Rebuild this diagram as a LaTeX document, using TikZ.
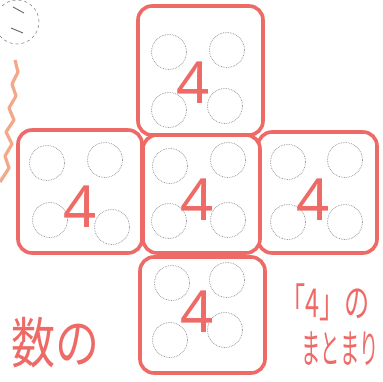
\documentclass[tikz,border=0pt]{standalone}
\usepackage{fontspec}
\setmainfont{Noto Sans}
\newfontfamily\cjk{Noto Sans CJK JP}
\definecolor{pen}{HTML}{EE6A66}
\definecolor{peach}{HTML}{F4A88A}
\definecolor{dotgray}{HTML}{8A8A8A}
\begin{document}
\begin{tikzpicture}[x=1pt,y=-1pt,
  facebox/.style={draw=pen,line width=3.6pt,rounded corners=14pt,fill=white,inner sep=0pt},
  pip/.style={circle,draw=dotgray,densely dotted,line width=0.7pt,minimum size=35pt,inner sep=0pt},
  four/.style={text=pen,font=\fontsize{58}{58}\selectfont,inner sep=0pt},
  jp/.style={text=pen,font=\cjk\fontsize{21}{21}\selectfont,inner sep=0pt}]
\useasboundingbox (0,0) rectangle (382,382);
\fill[white] (0,0) rectangle (382,382);
% circled number and wavy line
\node[circle,draw=dotgray,dashed,line width=0.6pt,minimum size=44pt,inner sep=0pt] (num) at (17,22) {};
\draw[gray!80!black,line width=0.9pt] (num.center) ++(-4,-15) -- ++(11,6);
\draw[gray!80!black,line width=0.9pt] (num.center) ++(-6,6) -- ++(12,5);
\coordinate (w1) at (15,60);
\coordinate (w2) at (0,182);
\draw[peach,line width=3.2pt,line join=round] (w1) -- (18,72) -- (12,84) -- (16,96) -- (9,108) -- (14,120) -- (6,132) -- (12,144) -- (5,156) -- (9,168) -- (w2);
% boxes
\node[facebox,minimum width=124pt,minimum height=123pt] (L) at (80,191.5) {};
\node[facebox,minimum width=119pt,minimum height=121pt] (R) at (317.5,192.5) {};
\node[facebox,minimum width=125pt,minimum height=129pt] (T) at (200.5,70.5) {};
\node[facebox,minimum width=125pt,minimum height=116pt] (B) at (202.5,315) {};
\node[facebox,minimum width=117pt,minimum height=118pt] (C) at (201.5,194) {};
% pips
\node[pip] (t1) at (169,52) {}; \node[pip] (t2) at (227,50) {};
\node[pip] (t3) at (169,110) {}; \node[pip] (t4) at (225,106) {};
\node[pip] (l1) at (47,163) {}; \node[pip] (l2) at (105,160) {};
\node[pip] (l3) at (50,220) {}; \node[pip] (l4) at (112,227) {};
\node[pip] (c1) at (170,166) {}; \node[pip] (c2) at (228,160) {};
\node[pip] (c3) at (169,221) {}; \node[pip] (c4) at (228,220) {};
\node[pip] (r1) at (288,162) {}; \node[pip] (r2) at (345,160) {};
\node[pip] (r3) at (288,222) {}; \node[pip] (r4) at (345,222) {};
\node[pip] (b1) at (172,283) {}; \node[pip] (b2) at (227,280) {};
\node[pip] (b3) at (170,340) {}; \node[pip] (b4) at (225,330) {};
% fours
\node[four] (tf) at (193,83) {4};
\node[four] (lf) at (80,207) {4};
\node[four] (cf) at (197,200) {4};
\node[four] (rf) at (313,200) {4};
\node[four] (bf) at (197,312) {4};
% texts
\node[jp,font=\cjk\fontsize{44}{44}\selectfont] (lt) at (55,343) {\scalebox{1}[1.25]{数の}};
\node[jp] (rt1) at (325,302) {\scalebox{1.2}[1.9]{「4」の}};
\node[jp] (rt2) at (340,349) {\scalebox{0.92}[1.9]{まとまり}};
\end{tikzpicture}
\end{document}
